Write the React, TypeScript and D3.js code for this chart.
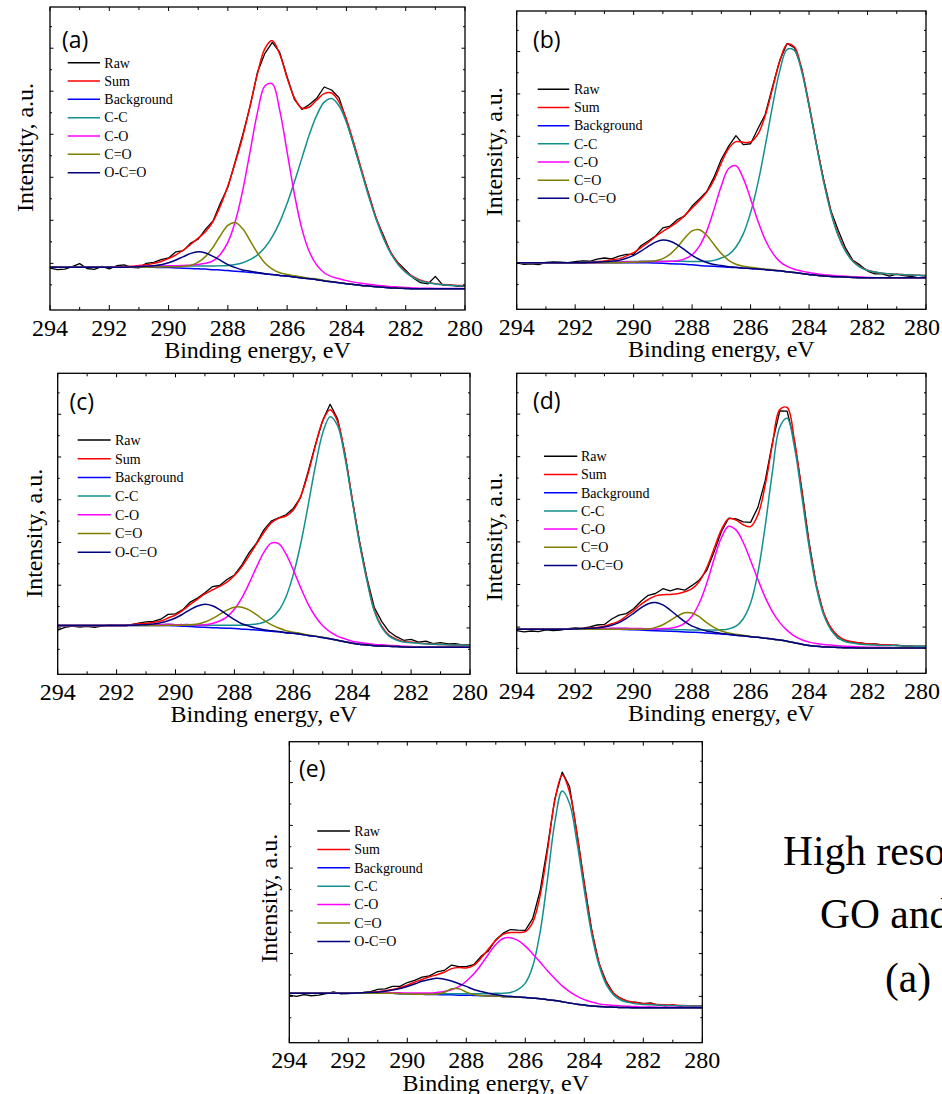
import React from "react";
import * as d3 from "d3";

// ---------- sampling grid (binding energy, eV), 294 -> 280 in 0.25 eV steps ----------
const energyGrid: number[] = d3.range(0, 57).map((i) => 294 - i * 0.25);

const xMajorTicks = [294, 292, 290, 288, 286, 284, 282, 280];
const xMinorTicks = [293, 291, 289, 287, 285, 283, 281];
const yMajorTicks = [15.4, 29.6, 43.8, 58, 72.2, 86.4];
const yMinorTicks = [8.3, 22.5, 36.7, 50.9, 65.1, 79.3, 93.5];

const seriesNames = ["Raw", "Sum", "Background", "C-C", "C-O", "C=O", "O-C=O"];
const panelLabels = ["(a)", "(b)", "(c)", "(d)", "(e)"];
const xTitle = "Binding energy, eV";
const yTitle = "Intensity, a.u.";
const captionLines = ["High resolution", "GO and", "(a)"];

// ---------- panel (a) ----------
const bgA = [14.1,14.1,14.1,14.1,14.1,14.1,14.1,14.1,14.1,14.1,14.1,14.1,14.1,14.1,14.1,
  14.0,14.0,13.9,13.8,13.7,13.6,13.5,13.3,13.2,13.0,12.8,12.6,12.4,12.2,11.9,11.7,11.4,11.2,10.9,10.6,
  10.3,10.0,9.6,9.3,9.0,8.7,8.4,8.1,7.9,7.7,7.5,7.3,7.2,7.1,7.0,7.0,7.0,7.0,7.0,7.0,7.0,7.0];
const ccA = { from: 291.0, v: [0.1,0.2,0.3,0.4,0.5,0.6,0.7,0.8,0.9,1.0,1.2,1.4,1.7,2.2,3.0,4.2,6.0,8.7,12.5,17.6,
  24.0,31.5,39.6,47.6,54.3,59.0,60.5,58.4,53.2,45.9,37.8,29.6,22.3,16.1,11.3,7.7,5.3,3.7,2.6,2.0,1.6,1.3,1.1,1.0,0.9] };
const coA = { from: 291.75, v: [0.1,0.2,0.2,0.3,0.3,0.4,0.5,0.6,0.7,0.9,1.1,1.4,1.9,2.9,5.2,9.3,16.4,26.8,39.9,53.0,62.0,
  62.9,54.5,40.9,27.1,16.1,8.9,4.8,2.7,1.7,1.3,1.0,0.8,0.7,0.6,0.5,0.5,0.4,0.4,0.3,0.3,0.2,0.2,0.1,0.1,0.1,0.1,0.1] };
const cdoA = { from: 290.5, v: [0.1,0.2,0.3,0.4,0.6,1.1,2.2,4.2,7.4,11.4,14.9,16.1,14.2,10.5,6.6,3.6,1.8,0.9,0.5,0.4,0.3,0.2,0.2,0.1,0.1] };
const ocoA = { from: 291.25, v: [0.1,0.2,0.3,0.5,0.9,1.6,2.6,3.8,5.0,5.6,5.3,4.4,3.2,2.0,1.2,0.6,0.4,0.2,0.1] };
const resA = [-0.3,-0.8,-0.6,0.2,1.2,-0.4,-0.7,0.3,-0.5,0.4,0.6,-0.3,-0.8,0.5,0.3,0.6,0.2,1.0,-0.2,0.4,
  -0.3,0.8,0.2,0.9,-0.4,0.3,0.6,-0.2,0.5,-1.6,-0.6,0.6,0.3,-0.5,-0.4,0.8,0.6,2.2,1.0,1.4,
  -0.3,-0.8,-0.5,0.2,-0.4,0.5,-0.3,0.2,0.4,-0.4,-0.8,-0.6,2.4,-0.2,0.1,-0.3,-0.2];

// ---------- panel (b) ----------
const bgB = [15.6,15.6,15.6,15.6,15.6,15.6,15.6,15.6,15.6,15.6,15.6,15.6,15.6,15.6,15.6,15.6,15.6,15.6,15.6,
  15.5,15.4,15.3,15.2,15.1,14.9,14.7,14.5,14.4,14.3,14.1,14.0,13.8,13.7,13.5,13.3,13.1,12.9,12.6,12.3,
  12.0,11.7,11.4,11.2,11.0,10.9,10.8,10.7,10.6,10.6,10.6,10.6,10.6,10.6,10.6,10.6,10.6,10.6];
const ccB = { from: 291.5, v: [0.1,0.2,0.2,0.3,0.3,0.4,0.4,0.5,0.5,0.6,0.7,0.8,0.9,1.0,1.1,1.3,1.6,2.0,2.9,4.2,
  6.9,11.5,18.7,28.8,41.4,55.0,67.1,74.5,74.5,67.6,56.5,43.7,31.5,21.3,13.7,8.6,5.3,3.5,2.4,1.9,1.5,1.3,1.1,1.0,0.9,0.8,0.7] };
const coB = { from: 291.0, v: [0.1,0.2,0.2,0.3,0.3,0.4,0.4,0.5,0.6,0.8,1.1,1.8,3.4,6.5,11.7,19.1,27.1,33.1,34.1,30.1,
  23.3,16.1,10.0,5.8,3.1,1.8,1.1,0.8,0.6,0.5,0.4,0.4,0.3,0.3,0.2,0.2,0.1] };
const cdoB = { from: 290.25, v: [0.1,0.2,0.3,0.4,0.8,1.6,3.2,5.7,8.8,11.4,12.0,10.3,7.3,4.4,2.3,1.1,0.6,0.4,0.3,0.2,0.1,0.1] };
const ocoB = { from: 291.5, v: [0.1,0.2,0.3,0.5,0.8,1.5,2.5,3.9,5.5,7.0,7.8,7.5,6.4,4.8,3.2,2.0,1.2,0.6,0.4,0.2,0.1] };
const resB = [0.0,-0.5,-0.4,-0.6,0.1,0.3,0.2,0.0,0.4,0.6,0.3,0.8,1.0,0.3,0.9,0.5,-0.6,0.6,0.5,0.2,
  1.2,0.3,0.8,-0.2,0.6,0.5,0.2,0.9,1.2,0.8,2.0,-0.8,-0.6,1.8,0.4,0.6,0.3,0.2,-0.2,0.3,
  -0.6,-0.2,0.4,0.3,1.5,0.8,0.2,0.5,-0.3,-0.6,-0.2,-0.8,0.1,-0.3,-0.5,-0.9,-0.4];

// ---------- panel (c) ----------
const bgC = [16.2,16.2,16.2,16.2,16.2,16.2,16.2,16.2,16.2,16.2,16.2,16.2,16.2,16.2,16.2,16.2,
  16.1,16.0,15.9,15.7,15.6,15.5,15.4,15.3,15.2,15.0,14.9,14.7,14.5,14.3,14.1,13.8,13.6,13.3,12.9,12.6,
  12.2,11.8,11.3,10.8,10.3,10.0,9.7,9.5,9.4,9.3,9.2,9.1,9.0,9.0,9.0,9.0,9.0,9.0,9.0,9.0,9.0];
const ccC = { from: 291.5, v: [0.1,0.2,0.2,0.3,0.3,0.4,0.4,0.5,0.5,0.6,0.7,0.8,0.9,1.0,1.1,1.3,1.6,2.0,2.8,4.3,
  7.0,11.9,19.5,30.0,43.0,56.6,68.0,73.8,71.4,61.4,47.4,33.3,21.4,11.5,6.2,3.4,2.2,1.6,1.5,1.3,1.1,1.0,0.9,0.8,0.7,0.7,0.6] };
const coC = { from: 291.5, v: [0.1,0.2,0.2,0.3,0.3,0.4,0.4,0.5,0.6,0.7,0.9,1.4,2.3,3.8,6.4,10.3,15.3,20.9,26.0,29.3,
  29.3,26.2,21.1,15.5,10.5,6.6,3.9,2.3,1.4,1.0,0.7,0.6,0.5,0.4,0.4,0.3,0.3,0.2,0.2,0.1,0.1] };
const cdoC = { from: 290.25, v: [0.1,0.2,0.3,0.6,1.0,1.8,3.0,4.5,6.0,7.1,7.3,6.5,5.1,3.5,2.2,1.3,0.7,0.4,0.3,0.2,0.1,0.1] };
const ocoC = { from: 291.5, v: [0.1,0.2,0.3,0.5,0.9,1.6,2.6,4.0,5.6,7.0,7.7,7.3,6.1,4.5,3.0,1.8,1.1,0.6,0.3,0.2,0.1] };
const resC = [-1.5,-0.6,-0.2,-0.5,-0.3,-0.6,-0.2,0.2,0.1,0.1,0.0,0.2,0.5,0.3,0.6,1.2,0.4,0.2,0.8,0.3,
  0.4,1.1,0.3,0.9,0.2,0.6,1.0,0.3,0.9,0.6,0.2,0.4,0.5,-0.3,0.6,0.4,0.2,1.8,0.9,0.2,
  -0.3,0.2,0.4,0.8,1.6,1.2,0.8,0.4,0.9,0.3,0.8,0.2,0.6,0.3,0.5,0.1,0.2];

// ---------- panel (d) ----------
const bgD = [14.7,14.7,14.7,14.7,14.7,14.7,14.7,14.7,14.7,14.7,14.7,14.7,14.7,14.7,14.7,
  14.6,14.5,14.4,14.3,14.2,14.1,14.0,13.9,13.8,13.7,13.6,13.4,13.3,13.1,12.9,12.7,12.5,12.2,12.0,11.7,
  11.4,11.1,10.7,10.2,9.7,9.3,9.0,8.8,8.7,8.6,8.5,8.5,8.4,8.4,8.4,8.4,8.4,8.4,8.4,8.4,8.4,8.4];
const ccD = { from: 291.0, v: [0.1,0.2,0.2,0.3,0.3,0.4,0.4,0.5,0.5,0.6,0.6,0.7,0.7,0.8,1.0,1.1,1.4,1.9,3.0,5.7,
  11.2,21.5,37.4,56.0,71.0,74.3,65.2,49.5,32.9,19.6,10.7,5.8,3.2,2.0,1.6,1.3,1.1,1.0,0.9,0.9,0.8,0.7,0.7,0.6,0.6] };
const coD = { from: 291.5, v: [0.1,0.2,0.2,0.3,0.3,0.4,0.4,0.5,0.5,0.6,0.8,1.0,1.6,2.9,5.4,9.9,16.6,24.7,32.1,36.1,
  35.1,31.1,25.4,19.3,13.6,9.1,5.8,3.6,2.2,1.5,1.1,0.9,0.8,0.7,0.6,0.5,0.4,0.4,0.3,0.3,0.2,0.2,0.1] };
const cdoD = { from: 290.25, v: [0.1,0.2,0.3,0.5,1.1,2.1,3.6,5.2,6.4,6.4,5.2,3.5,2.0,1.0,0.5,0.3,0.2,0.1] };
const ocoD = { from: 292.0, v: [0.1,0.2,0.3,0.4,0.7,1.3,2.2,3.7,5.5,7.4,8.9,9.4,8.7,7.1,5.2,3.4,2.0,1.2,0.7,0.4,0.2,0.1] };
const resD = [-0.5,-0.9,-0.6,-0.8,-0.2,-0.5,-0.3,0.2,0.3,0.1,0.4,0.8,0.6,1.6,2.0,0.8,0.6,1.0,1.4,0.8,
  2.0,1.2,1.7,0.5,1.1,0.4,-0.9,-1.1,-0.6,0.2,0.4,1.0,1.4,2.5,1.5,0.6,-0.4,-1.2,-0.3,0.9,
  0.4,-0.3,-0.4,-0.6,-0.8,-0.3,-0.2,0.0,-0.1,0.1,0.0,-0.2,0.1,0.0,-0.1,0.0,0.0];

// ---------- panel (e) ----------
const bgE = [16.4,16.4,16.4,16.4,16.4,16.4,16.4,16.4,16.4,16.4,16.4,16.4,16.4,16.4,16.4,
  16.3,16.2,16.1,16.1,16.0,16.0,15.9,15.9,15.8,15.8,15.7,15.6,15.5,15.5,15.3,15.2,15.1,15.0,14.8,14.6,
  14.3,14.0,13.6,13.2,12.8,12.5,12.2,12.0,11.9,11.8,11.7,11.7,11.6,11.6,11.6,11.6,11.6,11.6,11.6,11.6,11.6,11.6];
const ccE = { from: 290.0, v: [0.1,0.2,0.2,0.3,0.3,0.4,0.4,0.5,0.5,0.6,0.7,0.8,0.9,1.1,1.5,2.5,4.8,10.5,22.0,39.8,
  59.1,70.0,66.3,53.8,38.2,23.8,13.7,7.3,4.0,2.4,1.7,1.3,1.1,1.0,0.9,0.8,0.7,0.7,0.6,0.6,0.5] };
const coE = { from: 291.0, v: [0.1,0.2,0.2,0.3,0.3,0.4,0.4,0.5,0.7,1.1,1.7,2.8,4.6,7.1,10.3,13.9,17.1,19.3,19.7,18.9,
  17.1,14.7,12.2,9.6,7.3,5.3,3.8,2.7,1.8,1.3,0.9,0.7,0.6,0.5,0.4,0.4,0.3,0.3,0.2,0.2,0.2,0.1,0.1,0.1,0.1] };
const cdoE = { from: 289.25, v: [0.1,0.2,0.8,2.0,2.1,1.0,0.3,0.1] };
const ocoE = { from: 291.75, v: [0.1,0.2,0.3,0.4,0.7,1.1,1.7,2.5,3.4,4.3,5.0,5.4,5.2,4.6,3.8,2.9,2.0,1.4,0.9,0.5,0.3,0.2,0.1] };
const resE = [-0.6,-1.0,-0.4,-0.8,-0.6,-0.1,0.5,-0.2,-0.1,0.0,0.1,0.3,0.8,0.6,1.0,0.4,0.9,0.6,0.8,0.3,
  0.9,0.6,1.2,0.3,0.5,0.2,0.6,-0.6,0.2,0.4,1.0,0.8,0.4,1.2,1.6,1.2,0.6,1.0,1.8,0.4,
  0.6,0.2,-0.3,0.3,-0.2,0.1,-0.3,0.2,0.0,0.3,-0.2,-0.4,0.1,-0.3,0.0,-0.2,-0.1];

type Peak = { from: number; v: number[] };
type PanelData = { bg: number[]; peaks: Peak[]; res: number[] };

const panelData: PanelData[] = [
  { bg: bgA, peaks: [ccA, coA, cdoA, ocoA], res: resA },
  { bg: bgB, peaks: [ccB, coB, cdoB, ocoB], res: resB },
  { bg: bgC, peaks: [ccC, coC, cdoC, ocoC], res: resC },
  { bg: bgD, peaks: [ccD, coD, cdoD, ocoD], res: resD },
  { bg: bgE, peaks: [ccE, coE, cdoE, ocoE], res: resE },
];

// ---------- layout / style ----------
const COLORS = ["#000000", "#ff0000", "#0000ff", "#12908d", "#ff00ff", "#808000", "#000080"];
const SERIF = "'Liberation Serif', 'Times New Roman', serif";
const SANS = "'Open Sans', 'Liberation Sans', sans-serif";
const PAGE_W = 942;

type Layout = {
  x0: number; x1: number; y0: number; y1: number;
  labelX: number; labelY: number;
  legX1: number; legX2: number; legTextX: number; legY0: number; legStep: number;
  yTitleX: number; yTitleY: number;
};

const layouts: Layout[] = [
  { x0: 50, x1: 465, y0: 7, y1: 310, labelX: 62, labelY: 48, legX1: 67.7, legX2: 100, legTextX: 104.3, legY0: 62.7, legStep: 18.33, yTitleX: 33.3, yTitleY: 147.5 },
  { x0: 516.7, x1: 926, y0: 11, y1: 309.3, labelX: 533, labelY: 48, legX1: 537.7, legX2: 569.3, legTextX: 574, legY0: 89.3, legStep: 18.17, yTitleX: 501.7, yTitleY: 151.7 },
  { x0: 57.7, x1: 470, y0: 373.3, y1: 674.3, labelX: 69.5, labelY: 409.5, legX1: 77.7, legX2: 110.7, legTextX: 115, legY0: 440, legStep: 18.7, yTitleX: 41.7, yTitleY: 533.3 },
  { x0: 516.7, x1: 926, y0: 373.3, y1: 673.3, labelX: 533, labelY: 409, legX1: 544, legX2: 577.3, legTextX: 581, legY0: 456.3, legStep: 18.2, yTitleX: 501.7, yTitleY: 536.7 },
  { x0: 289.3, x1: 702.3, y0: 741.7, y1: 1042.7, labelX: 299, labelY: 777, legX1: 317.3, legX2: 350, legTextX: 354.3, legY0: 831, legStep: 18.4, yTitleX: 276.7, yTitleY: 898.3 },
];

function expandPeak(p: Peak): number[] {
  const arr = energyGrid.map(() => 0);
  const off = Math.round((294 - p.from) / 0.25);
  p.v.forEach((v, i) => {
    if (off + i < arr.length) arr[off + i] = v;
  });
  return arr;
}

function Panel({ data, lay, label, idx }: { data: PanelData; lay: Layout; label: string; idx: number }) {
  const x = d3.scaleLinear().domain([294, 280]).range([lay.x0, lay.x1]);
  const y = d3.scaleLinear().domain([0, 100]).range([lay.y1, lay.y0]);

  const peaks = data.peaks.map(expandPeak);
  const comps = peaks.map((p) => p.map((v, i) => data.bg[i] + v));
  const sum = data.bg.map((b, i) => b + peaks.reduce((s, p) => s + p[i], 0));
  const raw = sum.map((s, i) => s + data.res[i]);

  const smooth = d3
    .line<number>()
    .x((_, i) => x(energyGrid[i]))
    .y((v) => y(v))
    .curve(d3.curveCatmullRom.alpha(0.5));
  const jagged = d3
    .line<number>()
    .x((_, i) => x(energyGrid[i]))
    .y((v) => y(v))
    .curve(d3.curveLinear);

  const curves = [
    { d: jagged(raw), c: COLORS[0], w: 1.3 },
    { d: smooth(sum), c: COLORS[1], w: 1.5 },
    { d: smooth(data.bg), c: COLORS[2], w: 1.5 },
    { d: smooth(comps[0]), c: COLORS[3], w: 1.5 },
    { d: smooth(comps[1]), c: COLORS[4], w: 1.5 },
    { d: smooth(comps[2]), c: COLORS[5], w: 1.5 },
    { d: smooth(comps[3]), c: COLORS[6], w: 1.5 },
  ];
  const clipId = `clip-${idx}`;
  const midX = (lay.x0 + lay.x1) / 2;

  return (
    <g>
      <defs>
        <clipPath id={clipId}>
          <rect x={lay.x0} y={lay.y0} width={lay.x1 - lay.x0} height={lay.y1 - lay.y0} />
        </clipPath>
      </defs>
      {/* curves */}
      <g clipPath={`url(#${clipId})`} fill="none" strokeLinejoin="round">
        {curves.map((cv, i) => (
          <path key={i} d={cv.d || ""} stroke={cv.c} strokeWidth={cv.w} />
        ))}
      </g>
      {/* ticks */}
      <g stroke="#000" strokeWidth={1}>
        {xMajorTicks.map((t) => (
          <g key={`M${t}`}>
            <line x1={x(t)} x2={x(t)} y1={lay.y1} y2={lay.y1 - 5} />
            <line x1={x(t)} x2={x(t)} y1={lay.y0} y2={lay.y0 + 4} />
          </g>
        ))}
        {xMinorTicks.map((t) => (
          <g key={`m${t}`}>
            <line x1={x(t)} x2={x(t)} y1={lay.y1} y2={lay.y1 - 3} />
            <line x1={x(t)} x2={x(t)} y1={lay.y0} y2={lay.y0 + 3} />
          </g>
        ))}
        {yMajorTicks.map((t) => (
          <g key={`yM${t}`}>
            <line x1={lay.x0} x2={lay.x0 + 3.5} y1={y(t)} y2={y(t)} />
            <line x1={lay.x1} x2={lay.x1 - 3.5} y1={y(t)} y2={y(t)} />
          </g>
        ))}
        {yMinorTicks.map((t) => (
          <g key={`ym${t}`}>
            <line x1={lay.x0} x2={lay.x0 + 2} y1={y(t)} y2={y(t)} />
            <line x1={lay.x1} x2={lay.x1 - 2} y1={y(t)} y2={y(t)} />
          </g>
        ))}
      </g>
      {/* frame */}
      <rect x={lay.x0} y={lay.y0} width={lay.x1 - lay.x0} height={lay.y1 - lay.y0} fill="none" stroke="#000" strokeWidth={1.3} />
      {/* tick labels */}
      <g fontFamily={SERIF} fontSize={24} textAnchor="middle" fill="#000">
        {xMajorTicks.map((t) => (
          <text key={`tl${t}`} x={Math.min(x(t), PAGE_W - 20)} y={lay.y1 + 25.5}>
            {t}
          </text>
        ))}
      </g>
      <text x={midX} y={lay.y1 + 48} fontFamily={SERIF} fontSize={24} textAnchor="middle">
        {xTitle}
      </text>
      <text
        transform={`translate(${lay.yTitleX},${lay.yTitleY}) rotate(-90)`}
        fontFamily={SERIF}
        fontSize={24}
        textAnchor="middle"
      >
        {yTitle}
      </text>
      {/* panel label */}
      <text x={lay.labelX} y={lay.labelY} fontFamily={SANS} fontSize={23}>
        {label}
      </text>
      {/* legend */}
      <g>
        {seriesNames.map((n, i) => {
          const ly = lay.legY0 + i * lay.legStep;
          return (
            <g key={n}>
              <line x1={lay.legX1} x2={lay.legX2} y1={ly} y2={ly} stroke={COLORS[i]} strokeWidth={1.5} />
              <text x={lay.legTextX} y={ly + 4.8} fontFamily={SERIF} fontSize={14}>
                {n}
              </text>
            </g>
          );
        })}
      </g>
    </g>
  );
}

export default function App() {
  return (
    <svg
      width={942}
      height={1094}
      viewBox="0 0 942 1094"
      style={{ position: "absolute", left: 0, top: 0, background: "#fff" }}
    >
      <rect x={0} y={0} width={942} height={1094} fill="#fff" />
      {panelData.map((d, i) => (
        <Panel key={i} data={d} lay={layouts[i]} label={panelLabels[i]} idx={i} />
      ))}
      <g fontFamily={SERIF} fontSize={41.5} fill="#000">
        <text x={783} y={865}>{captionLines[0]}</text>
        <text x={820} y={928}>{captionLines[1]}</text>
        <text x={885} y={992}>{captionLines[2]}</text>
      </g>
    </svg>
  );
}
